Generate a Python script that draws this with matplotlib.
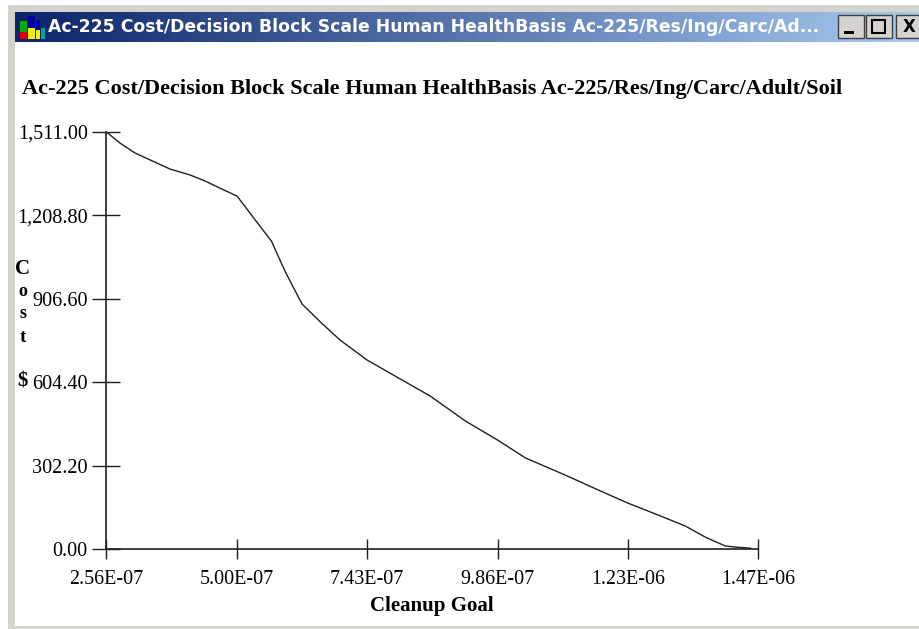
import matplotlib
matplotlib.use('Agg')
import matplotlib.pyplot as plt
import numpy as np
from matplotlib.colors import LinearSegmentedColormap
from matplotlib.patches import Rectangle

W, H = 920, 629

goal = [2.56e-7, 2.81e-7, 3.09e-7, 3.37e-7, 3.74e-7, 4.12e-7, 4.40e-7, 4.71e-7,
        4.99e-7, 5.33e-7, 5.63e-7, 5.89e-7, 6.20e-7, 6.54e-7, 6.91e-7, 7.41e-7,
        8.03e-7, 8.59e-7, 9.24e-7, 9.84e-7, 1.036e-6, 1.110e-6, 1.176e-6, 1.226e-6,
        1.287e-6, 1.334e-6, 1.371e-6, 1.408e-6, 1.427e-6, 1.455e-6]
cost = [1511, 1471, 1435, 1410, 1377, 1355, 1333, 1304,
        1279, 1192, 1116, 1004, 888, 823, 757, 685,
        616, 554, 464, 395, 330, 268, 210, 167,
        120, 83, 43, 11, 7, 3]

xticks = [2.56e-7, 4.988e-7, 7.416e-7, 9.844e-7, 1.2272e-6, 1.47e-6]
xlabels = ['2.56E-07', '5.00E-07', '7.43E-07', '9.86E-07', '1.23E-06', '1.47E-06']
yticks = [0, 302.2, 604.4, 906.6, 1208.8, 1511]
ylabels = ['0.00', '302.20', '604.40', '906.60', '1,208.80', '1,511.00']

title = 'Ac-225 Cost/Decision Block Scale Human HealthBasis Ac-225/Res/Ing/Carc/Adult/Soil'
wintitle = 'Ac-225 Cost/Decision Block Scale Human HealthBasis Ac-225/Res/Ing/Carc/Ad...'

serif = 'Liberation Serif'
frame = '#d6d3ce'

fig = plt.figure(figsize=(W / 100, H / 100), dpi=100, facecolor='white')

# whole figure in pixels, y going down, for the window around the chart
bg = fig.add_axes([0, 0, 1, 1])
bg.set_xlim(0, W)
bg.set_ylim(H, 0)
bg.axis('off')

bg.add_patch(Rectangle((8, 5), W - 8, 7, color=frame, lw=0))
bg.add_patch(Rectangle((8, 5), 7, H - 5, color=frame, lw=0))
bg.add_patch(Rectangle((8, 626), W - 8, 3, color=frame, lw=0))

# title bar gradient
cmap = LinearSegmentedColormap.from_list('bar', ['#0a246a', '#a6caf0'])
bg.imshow(np.linspace(0, 1, 256).reshape(1, -1), cmap=cmap, aspect='auto',
          extent=(15, W, 42, 12), zorder=1)
bg.set_xlim(0, W)
bg.set_ylim(H, 0)
bg.text(48, 27, wintitle, color='white', fontsize=12.45, fontweight='bold',
        family='DejaVu Sans', va='center', ha='left', zorder=3)

# little bar icon
for x0, top, w, col in [(20, 21, 7, '#00b000'), (28, 16, 7, '#0000a0'), (36, 20, 4, '#0000a0'), (41, 28, 4, '#00a0a0')]:
    bg.add_patch(Rectangle((x0, top), w, 39 - top, color=col, lw=0, zorder=3))
bg.add_patch(Rectangle((20, 32), 7, 7, color='#e00000', lw=0, zorder=4))
bg.add_patch(Rectangle((28, 28), 7, 11, color='#f0f000', lw=0, zorder=4))
bg.add_patch(Rectangle((36, 30), 4, 9, color='#f0f000', lw=0, zorder=4))

# window buttons
for x0 in [838, 866, 896]:
    bg.add_patch(Rectangle((x0, 15), 26, 23, fc=frame, ec='#404040', lw=1, zorder=3))
bg.add_patch(Rectangle((844, 31), 10, 3, color='black', lw=0, zorder=4))
bg.add_patch(Rectangle((872, 20), 13, 13, fc='none', ec='black', lw=1.5, zorder=4))
bg.text(909, 27, 'X', color='black', fontsize=12, fontweight='bold', family='DejaVu Sans',
        ha='center', va='center', zorder=4)

# chart axes, placed from the pixel positions of the axis lines
left, right, top, bottom = 106.5, 758.5, 132, 549
ax = fig.add_axes([left / W, 1 - bottom / H, (right - left) / W, (bottom - top) / H])
ax.patch.set_alpha(0)
ax.plot(goal, cost, color='#202020', lw=1.0)
ax.set_xlim(2.56e-7, 1.47e-6)
ax.set_ylim(0, 1511)
ax.spines['top'].set_visible(False)
ax.spines['right'].set_visible(False)
for s in ['left', 'bottom']:
    ax.spines[s].set_linewidth(1.2)
    ax.spines[s].set_color('#202020')
    ax.spines[s].set_zorder(5)

ax.set_xticks(xticks)
ax.set_xticklabels(xlabels, family=serif, fontsize=14.4)
ax.set_yticks(yticks)
ax.set_yticklabels(ylabels, family=serif, fontsize=14.6)
ax.tick_params(axis='x', which='major', direction='inout', length=14, width=1, color='#202020', pad=8)
ax.tick_params(axis='y', which='major', direction='inout', length=20, width=1, color='#202020', pad=3.5)

bg.text(22, 89, title, family=serif, fontsize=16, fontweight='bold', color='black', va='center', ha='left')
bg.text(432, 606, 'Cleanup Goal', family=serif, fontsize=15, fontweight='bold', color='black', va='center', ha='center')
for y, ch, fs in [(269, 'C', 15), (292, 'o', 13), (314, 's', 13), (337, 't', 14), (382, '$', 15)]:
    bg.text(23, y, ch, family=serif, fontsize=fs, fontweight='bold', color='black', va='center', ha='center')

fig.savefig('out.png', dpi=100)
